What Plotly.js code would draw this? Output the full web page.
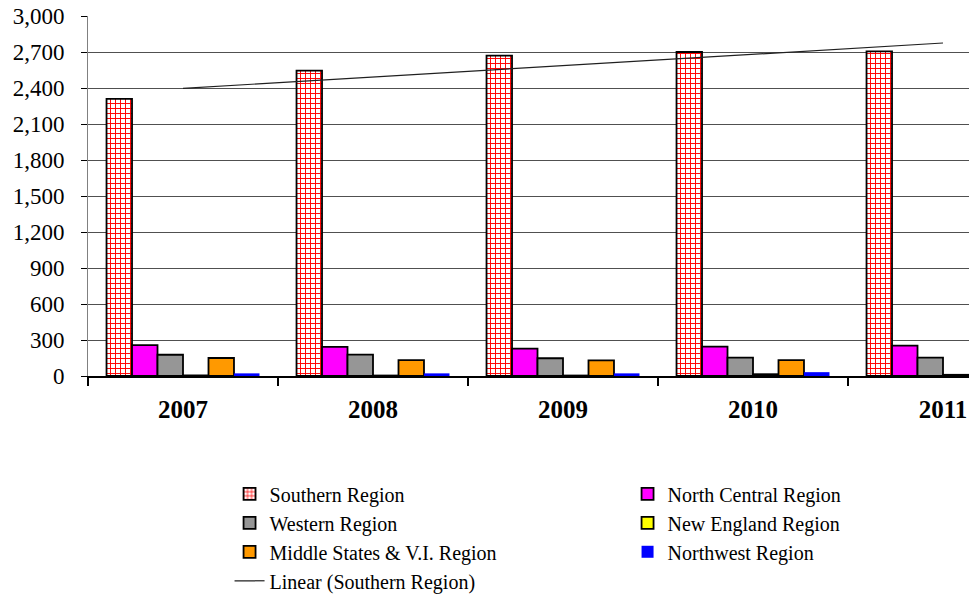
<!DOCTYPE html>
<html>
<head>
<meta charset="utf-8">
<script src="https://cdn.plot.ly/plotly-3.0.1.min.js"></script>
<style>
  html, body { margin: 0; padding: 0; overflow: hidden; background: #fff; }
  #chart { width: 1060px; height: 596px; }
</style>
</head>
<body>
<div id="chart"></div>
<script>
// ---- Data ----
const years = ['2007', '2008', '2009', '2010', '2011'];
const southern     = [2310, 2545, 2670, 2700, 2705];
const northCentral = [258, 242, 228, 245, 253];
const western      = [177, 178, 148, 153, 153];
const newEngland   = [5, 4, 4, 15, 10];
const middleStates = [150, 132, 130, 132, 0];
const northwest    = [22, 22, 22, 32, 0];
const seriesNames = ['Southern Region', 'North Central Region', 'Western Region',
                     'New England Region', 'Middle States & V.I. Region', 'Northwest Region'];
const trendName = 'Linear (Southern Region)';

// Linear least-squares trendline of the Southern series (as Excel does)
function linearFit(vals) {
  const n = vals.length;
  const xs = vals.map((_, i) => i + 1);
  const mx = xs.reduce((a, b) => a + b, 0) / n;
  const my = vals.reduce((a, b) => a + b, 0) / n;
  let num = 0, den = 0;
  for (let i = 0; i < n; i++) { num += (xs[i] - mx) * (vals[i] - my); den += (xs[i] - mx) ** 2; }
  const slope = num / den, icpt = my - slope * mx;
  return xs.map(x => icpt + slope * x);
}
const trend = linearFit(southern);

const outline = { color: '#000000', width: 1.8 };
const serif = 'Liberation Serif';

const traces = [
  { type: 'bar', name: seriesNames[0], x: years, y: southern,
    marker: { color: '#ffffff', line: outline,
              pattern: { shape: '+', fgcolor: '#ff0000', bgcolor: '#ffffff', size: 5, solidity: 0.35 } } },
  { type: 'bar', name: seriesNames[1], x: years, y: northCentral,
    marker: { color: '#ff00ff', line: outline } },
  { type: 'bar', name: seriesNames[2], x: years, y: western,
    marker: { color: '#969696', line: outline } },
  { type: 'bar', name: seriesNames[3], x: years, y: newEngland,
    marker: { color: '#ffff00', line: outline } },
  { type: 'bar', name: seriesNames[4], x: years, y: middleStates,
    marker: { color: '#ff9900', line: outline } },
  { type: 'bar', name: seriesNames[5], x: years, y: northwest,
    marker: { color: '#0000ff', line: { color: '#0000ff', width: 0 } } },
  { type: 'scatter', mode: 'lines', name: trendName, x: years, y: trend,
    line: { color: '#202020', width: 1.2 } }
];

const layout = {
  width: 1060, height: 596,
  margin: { l: 88, r: 22, t: 16, b: 220, autoexpand: false },
  paper_bgcolor: '#ffffff', plot_bgcolor: '#ffffff',
  barmode: 'group', bargap: 0.195, bargroupgap: 0,
  showlegend: true,
  legend: {
    orientation: 'h', x: 0.149, xanchor: 'left', y: -0.273, yanchor: 'top',
    entrywidth: 353, entrywidthmode: 'pixels', traceorder: 'normal',
    font: { family: serif, size: 20, color: '#000000' },
    bgcolor: 'rgba(0,0,0,0)'
  },
  xaxis: {
    type: 'category',
    showline: true, linecolor: '#000000', linewidth: 2,
    ticks: 'outside', tickson: 'boundaries', ticklen: 8, tickwidth: 1.5, tickcolor: '#000000',
    showgrid: false, zeroline: false,
    ticklabelstandoff: 10,
    tickfont: { family: serif, size: 25, color: '#000000', weight: 'bold' }
  },
  yaxis: {
    range: [0, 3000], dtick: 300, tick0: 0, tickformat: ',d',
    showline: true, linecolor: '#808080', linewidth: 1,
    ticks: 'outside', ticklen: 6, tickcolor: '#000000',
    showgrid: true, gridcolor: '#505050', gridwidth: 1, zeroline: false,
    ticklabelstandoff: 12,
    tickfont: { family: serif, size: 23, color: '#000000' }
  }
};

Plotly.newPlot('chart', traces, layout, { displayModeBar: false, staticPlot: true });
</script>
</body>
</html>
